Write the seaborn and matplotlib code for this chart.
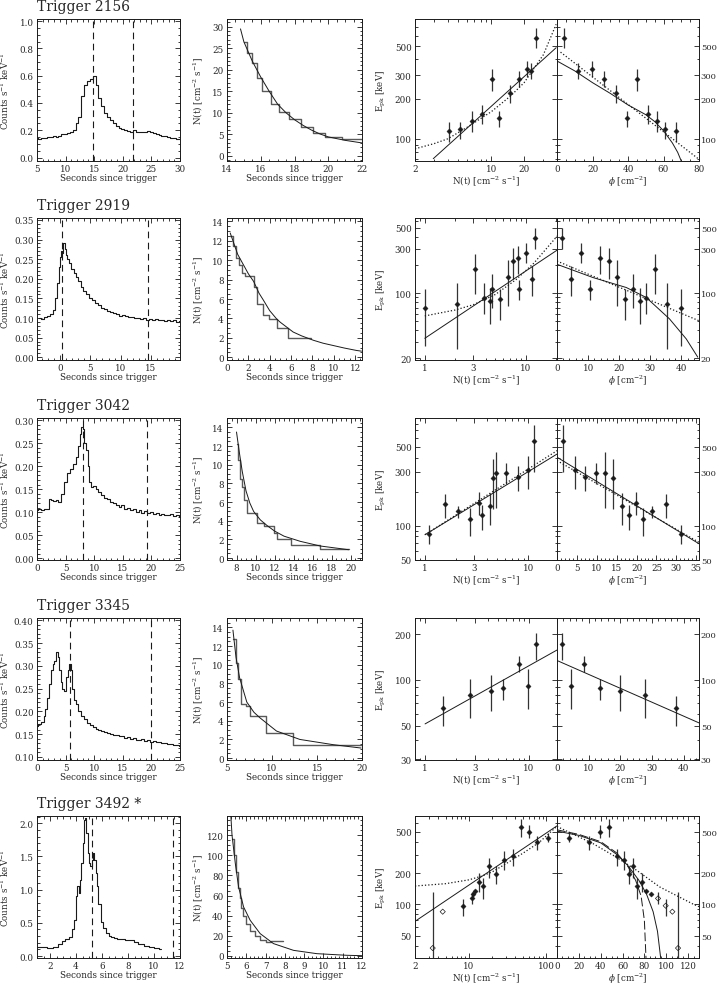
import numpy as np
import matplotlib
matplotlib.use('Agg')
import matplotlib.pyplot as plt
import seaborn as sns
from matplotlib.ticker import (FixedLocator, FuncFormatter, AutoMinorLocator,
                               LogLocator, NullFormatter, FormatStrFormatter)

# ---------------- Trigger 2156 ----------------
lc_t_2156 = [5.0, 5.5, 6.0, 6.5, 7.0, 7.5, 8.0, 8.5, 9.0, 9.5,
             10.0, 10.5, 11.0, 11.5, 12.0, 12.5, 13.0, 13.5, 14.0, 14.5,
             15.0, 15.5, 16.0, 16.5, 17.0, 17.5, 18.0, 18.5, 19.0, 19.5,
             20.0, 20.5, 21.0, 21.5, 22.0, 22.5, 23.0, 23.5, 24.0, 24.5,
             25.0, 25.5, 26.0, 26.5, 27.0, 27.5, 28.0, 28.5, 29.0, 29.5, 30.0]
lc_y_2156 = [0.140, 0.135, 0.145, 0.140, 0.150, 0.148, 0.155, 0.152, 0.160, 0.175,
             0.170, 0.180, 0.185, 0.205, 0.250, 0.300, 0.450, 0.530, 0.560, 0.575,
             0.595, 0.530, 0.440, 0.380, 0.330, 0.300, 0.275, 0.255, 0.235, 0.220,
             0.210, 0.205, 0.195, 0.190, 0.200, 0.190, 0.185, 0.188, 0.190, 0.198,
             0.185, 0.180, 0.172, 0.165, 0.160, 0.155, 0.150, 0.145, 0.140, 0.138, 0.135]
marks_2156 = [14.8, 21.7]
fit_t_2156 = [14.8, 15.0, 15.5, 16.0, 16.5, 17.0, 17.5, 18.0, 18.5, 19.0, 19.5, 20.0, 21.0, 22.0]
fit_n_2156 = [29.5, 26.5, 22.0, 18.3, 15.0, 12.0, 10.0, 8.4, 7.1, 6.0, 5.1, 4.4, 3.6, 3.0]
hist_edges_2156 = [15.0, 15.2, 15.5, 15.8, 16.1, 16.6, 17.1, 17.7, 18.4, 19.1, 19.8, 20.8, 22.0]
hist_vals_2156 = [26.5, 24.0, 21.5, 18.0, 15.0, 12.0, 10.3, 8.5, 6.8, 5.2, 4.3, 4.0]
phi_2156 = [3.9, 12.0, 19.5, 26.5, 33.2, 39.6, 45.3, 51.5, 56.5, 60.8, 67.0]
nflux_2156 = [25.8, 23.2, 21.2, 17.8, 14.8, 11.7, 10.1, 8.24, 6.6, 5.13, 4.1]
epk_2156 = [577, 325, 338, 281, 221, 143, 281, 154, 137, 119, 114]
epk_lo_2156 = [487, 281, 290, 244, 185, 122, 230, 129, 112, 100, 94]
epk_hi_2156 = [687, 375, 385, 325, 254, 162, 338, 180, 163, 134, 133]
en_solid_n_2156 = [2.94, 39.3]
en_solid_e_2156 = [70.8, 486]
en_dot_n_2156 = [2, 3, 4, 6, 10, 15, 20, 30, 39.3]
en_dot_e_2156 = [84, 92, 100, 122, 160, 210, 265, 430, 730]
ep_solid_p_2156 = [0, 10, 20, 30, 40, 50, 55, 60, 65, 68, 70]
ep_solid_e_2156 = [386, 325, 265, 220, 180, 152, 135, 115, 93, 79, 68]
ep_dot_p_2156 = [2, 80]
ep_dot_e_2156 = [450, 70]

# ---------------- Trigger 2919 ----------------
lc_t_2919 = [-3.5, -3.0, -2.5, -2.0, -1.5, -1.0, -0.7, -0.4, -0.2, 0.0,
             0.2, 0.4, 0.6, 0.8, 1.0, 1.3, 1.6, 2.0, 2.4, 2.8,
             3.2, 3.6, 4.0, 4.5, 5.0, 5.5, 6.0, 6.5, 7.0, 7.5,
             8.0, 8.5, 9.0, 9.5, 10.0, 10.5, 11.0, 11.5, 12.0, 12.5,
             13.0, 13.5, 14.0, 14.5, 15.0, 15.5, 16.0, 16.5, 17.0, 17.5,
             18.0, 18.5, 19.0, 19.5, 19.9]
lc_y_2919 = [0.100, 0.098, 0.102, 0.105, 0.110, 0.120, 0.150, 0.190, 0.230, 0.255,
             0.270, 0.265, 0.290, 0.275, 0.260, 0.250, 0.240, 0.225, 0.215, 0.205,
             0.195, 0.180, 0.170, 0.160, 0.150, 0.145, 0.138, 0.132, 0.125, 0.122,
             0.118, 0.115, 0.112, 0.110, 0.106, 0.108, 0.104, 0.102, 0.103, 0.100,
             0.101, 0.098, 0.100, 0.096, 0.098, 0.095, 0.097, 0.094, 0.096, 0.093,
             0.095, 0.092, 0.094, 0.091, 0.093]
marks_2919 = [0.2, 14.6]
fit_t_2919 = [0.3, 1.0, 2.0, 2.5, 3.0, 3.4, 4.0, 4.65, 5.0, 6.2, 7.0, 8.1, 9.0, 10.0, 11.0, 12.15, 12.6]
fit_n_2919 = [12.8, 10.6, 8.6, 7.8, 6.6, 5.9, 4.8, 3.95, 3.6, 2.6, 2.2, 1.75, 1.45, 1.2, 0.95, 0.7, 0.63]
hist_edges_2919 = [0.3, 0.55, 0.8, 1.1, 1.4, 1.7, 2.5, 2.8, 3.4, 3.9, 4.7, 5.75, 7.9]
hist_vals_2919 = [12.5, 11.5, 10.2, 9.5, 8.7, 8.4, 7.2, 5.5, 4.4, 3.9, 3.0, 2.0]
phi_2919 = [1.6, 4.6, 7.6, 10.5, 13.7, 16.6, 19.3, 21.9, 24.3, 26.6, 28.7, 31.4, 35.4, 40.0]
nflux_2919 = [12.4, 11.5, 10.0, 8.58, 8.26, 7.37, 6.6, 5.53, 4.67, 4.4, 3.84, 3.13, 2.09, 1.0]
epk_2919 = [392, 143, 272, 112, 240, 221, 150, 86, 110, 83, 88, 180, 76, 70]
epk_lo_2919 = [295, 94, 212, 85, 160, 141, 73, 52, 70, 47, 60, 98, 25, 27]
epk_hi_2919 = [502, 196, 347, 140, 320, 307, 225, 112, 160, 115, 130, 260, 127, 110]
en_solid_n_2919 = [1.0, 20.4]
en_solid_e_2919 = [32.8, 290]
en_dot_n_2919 = [1, 2, 3, 5, 8, 12, 20.4]
en_dot_e_2919 = [57, 66, 75, 97, 140, 210, 410]
ep_solid_p_2919 = [0, 11.6, 22.3, 28.7, 36.2, 41.6, 45.3]
ep_solid_e_2919 = [204, 147, 115, 90, 53, 32.3, 20.6]
ep_dot_p_2919 = [0, 45.7]
ep_dot_e_2919 = [221, 50.6]

# ---------------- Trigger 3042 ----------------
lc_t_3042 = [0.0, 0.5, 1.0, 1.5, 2.0, 2.3, 2.7, 3.0, 3.5, 4.0,
             4.5, 5.0, 5.5, 6.0, 6.5, 7.0, 7.3, 7.6, 7.9, 8.1,
             8.4, 8.7, 9.0, 9.3, 9.6, 10.0, 10.5, 11.0, 11.5, 12.0,
             12.5, 13.0, 13.5, 14.0, 14.5, 15.0, 15.5, 16.0, 16.5, 17.0,
             17.5, 18.0, 18.5, 19.0, 19.5, 20.0, 20.5, 21.0, 21.5, 22.0,
             22.5, 23.0, 23.5, 24.0, 24.5, 25.0]
lc_y_3042 = [0.105, 0.108, 0.104, 0.107, 0.106, 0.128, 0.126, 0.124, 0.127, 0.122,
             0.140, 0.165, 0.185, 0.195, 0.205, 0.220, 0.245, 0.270, 0.285, 0.280,
             0.250, 0.235, 0.200, 0.165, 0.155, 0.158, 0.150, 0.145, 0.138, 0.130,
             0.128, 0.122, 0.120, 0.115, 0.112, 0.115, 0.108, 0.110, 0.104, 0.106,
             0.100, 0.104, 0.098, 0.102, 0.099, 0.100, 0.096, 0.098, 0.094, 0.097,
             0.095, 0.093, 0.096, 0.092, 0.094, 0.090]
marks_3042 = [8.0, 19.3]
fit_t_3042 = [8.0, 8.3, 8.6, 9.0, 9.4, 9.8, 10.5, 11.2, 12.0, 13.0, 14.7, 16.8, 19.8]
fit_n_3042 = [13.5, 11.3, 9.3, 7.2, 5.9, 5.0, 4.1, 3.5, 2.9, 2.35, 1.8, 1.3, 0.9]
hist_edges_3042 = [8.0, 8.2, 8.4, 8.6, 8.8, 9.1, 10.2, 10.9, 11.9, 12.3, 13.7, 16.8, 19.8]
hist_vals_3042 = [12.2, 10.5, 8.5, 7.6, 6.2, 4.85, 3.8, 3.4, 2.7, 2.0, 1.45, 0.95]
phi_3042 = [1.5, 4.4, 7.1, 9.7, 12.0, 14.2, 16.3, 18.1, 19.9, 21.6, 23.9, 27.3, 31.3]
nflux_3042 = [11.3, 10.0, 8.0, 6.07, 4.82, 4.58, 4.25, 3.55, 3.3, 2.73, 2.1, 1.56, 1.1]
epk_3042 = [557, 313, 272, 292, 292, 262, 149, 123, 160, 115, 134, 154, 85]
epk_lo_3042 = [296, 210, 202, 233, 144, 141, 102, 92, 125, 80, 117, 117, 68]
epk_hi_3042 = [775, 418, 340, 358, 447, 390, 196, 151, 199, 144, 149, 189, 102]
en_solid_n_3042 = [1.0, 19.1]
en_solid_e_3042 = [83, 432]
en_dot_n_3042 = [1.0, 19.1]
en_dot_e_3042 = [83, 463]
ep_solid_p_3042 = [0, 35.7]
ep_solid_e_3042 = [404, 69]
ep_dot_p_3042 = [0, 35.7]
ep_dot_e_3042 = [377, 71]

# ---------------- Trigger 3345 ----------------
lc_t_3345 = [0.0, 0.5, 1.0, 1.3, 1.6, 2.0, 2.3, 2.6, 2.9, 3.2,
             3.5, 3.7, 4.0, 4.3, 4.6, 4.9, 5.2, 5.5, 5.8, 6.0,
             6.3, 6.6, 7.0, 7.5, 8.0, 8.5, 9.0, 9.5, 10.0, 10.5,
             11.0, 11.5, 12.0, 12.5, 13.0, 13.5, 14.0, 14.5, 15.0, 15.5,
             16.0, 16.5, 17.0, 17.5, 18.0, 18.5, 19.0, 19.5, 20.0, 20.5,
             21.0, 21.5, 22.0, 22.5, 23.0, 23.5, 24.0, 24.5, 25.0]
lc_y_3345 = [0.168, 0.172, 0.176, 0.190, 0.205, 0.230, 0.260, 0.290, 0.305, 0.310,
             0.330, 0.320, 0.290, 0.265, 0.250, 0.245, 0.275, 0.290, 0.305, 0.290,
             0.250, 0.225, 0.215, 0.200, 0.190, 0.182, 0.175, 0.170, 0.165, 0.162,
             0.160, 0.157, 0.155, 0.152, 0.150, 0.149, 0.147, 0.146, 0.145, 0.142,
             0.143, 0.140, 0.141, 0.138, 0.137, 0.139, 0.135, 0.136, 0.133, 0.135,
             0.132, 0.133, 0.130, 0.131, 0.128, 0.129, 0.125, 0.127, 0.124]
marks_3345 = [5.7, 20.0]
fit_t_3345 = [5.66, 6.0, 6.4, 7.2, 8.0, 8.68, 10.5, 13.1, 16.8, 19.9]
fit_n_3345 = [13.7, 10.8, 8.6, 6.0, 4.9, 4.3, 2.9, 2.0, 1.44, 1.08]
hist_edges_3345 = [5.7, 5.95, 6.2, 6.6, 7.1, 7.6, 9.3, 12.3, 20.0]
hist_vals_3345 = [12.8, 10.2, 8.5, 5.8, 5.6, 4.5, 2.7, 1.4]
phi_3345 = [1.6, 4.5, 8.4, 13.7, 20.0, 27.7, 37.7]
nflux_3345 = [11.8, 9.79, 8.0, 5.62, 4.35, 2.7, 1.48]
epk_3345 = [171, 91, 127, 88, 85, 79, 65]
epk_lo_3345 = [134, 64, 112, 74, 62, 56, 50]
epk_hi_3345 = [203, 118, 144, 101, 108, 101, 78]
en_solid_n_3345 = [1.0, 18.6]
en_solid_e_3345 = [51.3, 157]
ep_solid_p_3345 = [0, 44.8]
ep_solid_e_3345 = [134, 52.1]

# ---------------- Trigger 3492 ----------------
lc_t_3492 = [1.0, 1.5, 2.0, 2.5, 2.8, 3.0, 3.3, 3.6, 3.8, 3.95,
             4.05, 4.15, 4.25, 4.35, 4.45, 4.55, 4.65, 4.75, 4.85, 4.95,
             5.05, 5.15, 5.25, 5.35, 5.45, 5.55, 5.65, 5.8, 6.0, 6.2,
             6.4, 6.6, 6.8, 7.0, 7.3, 7.6, 8.0, 8.3, 8.6, 9.0,
             9.4, 9.8, 10.2, 10.5]
lc_y_3492 = [0.140, 0.130, 0.120, 0.130, 0.180, 0.230, 0.260, 0.280, 0.400, 0.550,
             0.900, 1.050, 0.950, 1.150, 1.400, 1.700, 2.050, 2.080, 1.850, 1.550,
             1.400, 1.350, 1.450, 1.550, 1.450, 1.250, 1.050, 0.780, 0.520, 0.420,
             0.350, 0.300, 0.280, 0.270, 0.260, 0.250, 0.245, 0.235, 0.210, 0.180,
             0.150, 0.130, 0.115, 0.100]
marks_3492 = [5.26, 11.45]
fit_t_3492 = [5.2, 5.26, 5.43, 5.6, 5.86, 6.2, 6.72, 7.41, 8.45, 9.66, 11.2, 12.0]
fit_n_3492 = [139, 120, 92, 68.6, 48.7, 35.5, 22.2, 12.3, 5.6, 2.3, 0.7, 0.3]
hist_edges_3492 = [5.25, 5.35, 5.45, 5.55, 5.65, 5.75, 5.85, 6.0, 6.2, 6.45, 6.7, 7.0, 7.3, 7.9]
hist_vals_3492 = [116, 100, 83, 68, 58, 48, 40, 32, 25, 20, 16, 14, 15]
phi_3492 = [11, 29.3, 39.7, 47.6, 55.3, 61.4, 66, 70, 73.6, 77.9, 81.2, 86.4, 92.5, 99.5, 105.6, 110.8]
nflux_3492 = [104.6, 76.5, 60.6, 47.3, 37.1, 28, 22.6, 18.2, 15.1, 13.3, 12.0, 11.4, 11.1, 8.32, 4.57, 3.39]
epk_3492 = [437, 400, 500, 553, 293, 268, 195, 232, 150, 164, 133, 127, 114, 97, 85, 38]
epk_lo_3492 = [395, 330, 436, 445, 235, 213, 158, 180, 113, 131, 133, 127, 100, 78, 85, 30]
epk_hi_3492 = [480, 455, 577, 658, 340, 327, 235, 280, 180, 201, 133, 127, 130, 113, 85, 131]
open_n_3492 = 2      # last points drawn open in the N(t) panel
open_phi_3492 = 4    # last points drawn open in the phi panel
en_solid_n_3492 = [2.0, 137]
en_solid_e_3492 = [68.6, 566]
en_dot_n_3492 = [2, 5, 10, 15, 20, 30, 50, 80, 137]
en_dot_e_3492 = [150, 158, 172, 188, 205, 245, 310, 390, 560]
ep_solid_p_3492 = [0, 20, 40, 55, 65, 75, 82, 88, 92, 95]
ep_solid_e_3492 = [505, 460, 390, 300, 235, 170, 125, 85, 55, 30]
ep_dash_p_3492 = [0, 20, 40, 55, 65, 72, 77, 80, 81.5]
ep_dash_e_3492 = [520, 470, 400, 310, 230, 170, 120, 70, 30]
ep_dot_p_3492 = [0, 33, 54, 73, 94, 125, 130]
ep_dot_e_3492 = [560, 383, 285, 212, 147, 100, 95]

bursts = [
    dict(name='Trigger 2156', lc_t=lc_t_2156, lc_y=lc_y_2156, marks=marks_2156,
         fit_t=fit_t_2156, fit_n=fit_n_2156, h_e=hist_edges_2156, h_v=hist_vals_2156,
         phi=phi_2156, nf=nflux_2156, ep=epk_2156, lo=epk_lo_2156, hi=epk_hi_2156,
         en_s=(en_solid_n_2156, en_solid_e_2156), en_d=(en_dot_n_2156, en_dot_e_2156),
         ep_s=(ep_solid_p_2156, ep_solid_e_2156), ep_d=(ep_dot_p_2156, ep_dot_e_2156),
         lc_xlim=(5, 30), lc_xt=[5, 10, 15, 20, 25, 30], lc_ylim=(-0.025, 1.015),
         lc_yt=[0.0, 0.2, 0.4, 0.6, 0.8, 1.0], lc_fmt='%.1f',
         nt_xlim=(14, 22), nt_xt=[14, 16, 18, 20, 22], nt_ylim=(-1.2, 31.8),
         nt_yt=[0, 5, 10, 15, 20, 25, 30],
         en_xlim=(2, 40), en_xt=[2, 10, 20], ylim=(68, 800), yt=[100, 200, 300, 500],
         phi_xlim=(0, 80), phi_xt=[0, 20, 40, 60, 80]),
    dict(name='Trigger 2919', lc_t=lc_t_2919, lc_y=lc_y_2919, marks=marks_2919,
         fit_t=fit_t_2919, fit_n=fit_n_2919, h_e=hist_edges_2919, h_v=hist_vals_2919,
         phi=phi_2919, nf=nflux_2919, ep=epk_2919, lo=epk_lo_2919, hi=epk_hi_2919,
         en_s=(en_solid_n_2919, en_solid_e_2919), en_d=(en_dot_n_2919, en_dot_e_2919),
         ep_s=(ep_solid_p_2919, ep_solid_e_2919), ep_d=(ep_dot_p_2919, ep_dot_e_2919),
         lc_xlim=(-3.9, 19.9), lc_xt=[0, 5, 10, 15], lc_ylim=(-0.007, 0.355),
         lc_yt=[0.0, 0.05, 0.10, 0.15, 0.20, 0.25, 0.30, 0.35], lc_fmt='%.2f',
         nt_xlim=(0, 12.65), nt_xt=[0, 2, 4, 6, 8, 10, 12], nt_ylim=(-0.28, 14.34),
         nt_yt=[0, 2, 4, 6, 8, 10, 12, 14],
         en_xlim=(0.8, 20.3), en_xt=[1, 3, 10], ylim=(19.2, 640), yt=[20, 100, 300, 500],
         phi_xlim=(0, 45.7), phi_xt=[0, 10, 20, 30, 40]),
    dict(name='Trigger 3042', lc_t=lc_t_3042, lc_y=lc_y_3042, marks=marks_3042,
         fit_t=fit_t_3042, fit_n=fit_n_3042, h_e=hist_edges_3042, h_v=hist_vals_3042,
         phi=phi_3042, nf=nflux_3042, ep=epk_3042, lo=epk_lo_3042, hi=epk_hi_3042,
         en_s=(en_solid_n_3042, en_solid_e_3042), en_d=(en_dot_n_3042, en_dot_e_3042),
         ep_s=(ep_solid_p_3042, ep_solid_e_3042), ep_d=(ep_dot_p_3042, ep_dot_e_3042),
         lc_xlim=(0, 25), lc_xt=[0, 5, 10, 15, 20, 25], lc_ylim=(-0.004, 0.305),
         lc_yt=[0.0, 0.05, 0.10, 0.15, 0.20, 0.25, 0.30], lc_fmt='%.2f',
         nt_xlim=(7.0, 21.2), nt_xt=[8, 10, 12, 14, 16, 18, 20], nt_ylim=(-0.2, 15),
         nt_yt=[0, 2, 4, 6, 8, 10, 12, 14],
         en_xlim=(0.8, 19), en_xt=[1, 3, 10], ylim=(49.5, 900), yt=[50, 100, 300, 500],
         phi_xlim=(0, 35.7), phi_xt=[0, 5, 10, 15, 20, 25, 30, 35]),
    dict(name='Trigger 3345', lc_t=lc_t_3345, lc_y=lc_y_3345, marks=marks_3345,
         fit_t=fit_t_3345, fit_n=fit_n_3345, h_e=hist_edges_3345, h_v=hist_vals_3345,
         phi=phi_3345, nf=nflux_3345, ep=epk_3345, lo=epk_lo_3345, hi=epk_hi_3345,
         en_s=(en_solid_n_3345, en_solid_e_3345), en_d=None,
         ep_s=(ep_solid_p_3345, ep_solid_e_3345), ep_d=None,
         lc_xlim=(0, 25), lc_xt=[0, 5, 10, 15, 20, 25], lc_ylim=(0.093, 0.405),
         lc_yt=[0.10, 0.15, 0.20, 0.25, 0.30, 0.35, 0.40], lc_fmt='%.2f',
         nt_xlim=(5, 20), nt_xt=[5, 10, 15, 20], nt_ylim=(-0.2, 15),
         nt_yt=[0, 2, 4, 6, 8, 10, 12, 14],
         en_xlim=(0.8, 18.6), en_xt=[1, 3, 10], ylim=(29.7, 255), yt=[30, 50, 100, 200],
         phi_xlim=(0, 44.8), phi_xt=[0, 10, 20, 30, 40]),
    dict(name='Trigger 3492 *', lc_t=lc_t_3492, lc_y=lc_y_3492, marks=marks_3492,
         fit_t=fit_t_3492, fit_n=fit_n_3492, h_e=hist_edges_3492, h_v=hist_vals_3492,
         phi=phi_3492, nf=nflux_3492, ep=epk_3492, lo=epk_lo_3492, hi=epk_hi_3492,
         en_s=(en_solid_n_3492, en_solid_e_3492), en_d=(en_dot_n_3492, en_dot_e_3492),
         ep_s=(ep_solid_p_3492, ep_solid_e_3492), ep_d=(ep_dot_p_3492, ep_dot_e_3492),
         ep_dash=(ep_dash_p_3492, ep_dash_e_3492),
         open_n=open_n_3492, open_phi=open_phi_3492,
         lc_xlim=(1, 12), lc_xt=[2, 4, 6, 8, 10, 12], lc_ylim=(-0.03, 2.11),
         lc_yt=[0.0, 0.5, 1.0, 1.5, 2.0], lc_fmt='%.1f',
         nt_xlim=(5, 12), nt_xt=[5, 6, 7, 8, 9, 10, 11, 12], nt_ylim=(-2, 139),
         nt_yt=[0, 20, 40, 60, 80, 100, 120],
         en_xlim=(2, 138), en_xt=[2, 10, 100], ylim=(30.5, 706), yt=[50, 100, 200, 500],
         phi_xlim=(0, 130), phi_xt=[0, 20, 40, 60, 80, 100, 120]),
]

sns.set_theme(style='ticks')
plt.rcParams['font.family'] = ['DejaVu Serif']
plt.rcParams['mathtext.fontset'] = 'dejavuserif'

FS = 6.3
W, H = 718.0, 987.0
row_tops = [20, 219, 419, 619, 817]
col_left = [37, 227, 415, 557]
col_w = [143, 135, 142, 142]
ax_h = 142

fig = plt.figure(figsize=(7.18, 9.87), dpi=100)


def style(ax):
    ax.tick_params(which='both', direction='in', top=True, right=True,
                   labelsize=FS, width=0.6, color='k', pad=2.5)
    ax.tick_params(axis='x', pad=2)
    ax.tick_params(which='major', length=3.5)
    ax.tick_params(which='minor', length=1.8)
    for s in ax.spines.values():
        s.set_linewidth(0.7)
        s.set_color('k')


def log_ticks(axis, ticks):
    axis.set_major_locator(FixedLocator(ticks))
    axis.set_major_formatter(FuncFormatter(lambda v, p: f'{v:g}'))
    axis.set_minor_locator(LogLocator(subs=np.arange(2, 10)))
    axis.set_minor_formatter(NullFormatter())


def errbars(ax, x, lo, hi):
    ax.vlines(x, lo, hi, colors='0.2', lw=0.9)


for r, b in enumerate(bursts):
    bottom = (H - row_tops[r] - ax_h) / H
    axs = [fig.add_axes([col_left[c] / W, bottom, col_w[c] / W, ax_h / H]) for c in range(4)]
    a1, a2, a3, a4 = axs
    for a in axs:
        style(a)

    # light curve
    sns.lineplot(x=b['lc_t'], y=b['lc_y'], ax=a1, color='k', lw=0.8,
                 estimator=None, sort=False, drawstyle='steps-mid')
    for m in b['marks']:
        a1.axvline(m, color='k', lw=0.8, dashes=(6, 4))
    a1.set_xlim(*b['lc_xlim'])
    a1.set_ylim(*b['lc_ylim'])
    a1.set_xticks(b['lc_xt'])
    a1.set_yticks(b['lc_yt'])
    a1.yaxis.set_major_formatter(FormatStrFormatter(b['lc_fmt']))
    a1.xaxis.set_minor_locator(AutoMinorLocator())
    a1.yaxis.set_minor_locator(AutoMinorLocator())
    a1.set_xlabel('Seconds since trigger', fontsize=FS, labelpad=0.5)
    a1.set_ylabel('Counts s$^{-1}$ keV$^{-1}$', fontsize=FS)
    a1.yaxis.set_label_coords(-0.185, 0.5)
    a1.text(0.0, 1.045, b['name'], transform=a1.transAxes, fontsize=10,
            ha='left', va='bottom')

    # N(t) decay with binned steps
    steps = np.append(b['h_v'], b['h_v'][-1])
    sns.lineplot(x=b['h_e'], y=steps, ax=a2, color='0.35', lw=1.0,
                 estimator=None, sort=False, drawstyle='steps-post')
    sns.lineplot(x=b['fit_t'], y=b['fit_n'], ax=a2, color='k', lw=0.7,
                 estimator=None, sort=False)
    a2.set_xlim(*b['nt_xlim'])
    a2.set_ylim(*b['nt_ylim'])
    a2.set_xticks(b['nt_xt'])
    a2.set_yticks(b['nt_yt'])
    a2.xaxis.set_minor_locator(AutoMinorLocator())
    a2.yaxis.set_minor_locator(AutoMinorLocator())
    a2.set_xlabel('Seconds since trigger', fontsize=FS, labelpad=0.5)
    a2.set_ylabel('N(t) [cm$^{-2}$ s$^{-1}$]', fontsize=FS)
    a2.yaxis.set_label_coords(-0.16, 0.5)

    nf = np.array(b['nf'])
    ph = np.array(b['phi'])
    ep = np.array(b['ep'])
    n_open = b.get('open_n', 0)
    p_open = b.get('open_phi', 0)

    # Epk vs N(t)
    a3.set_xscale('log')
    a3.set_yscale('log')
    errbars(a3, nf, b['lo'], b['hi'])
    k = len(nf) - n_open
    sns.scatterplot(x=nf[:k], y=ep[:k], ax=a3, marker='D', s=7, color='k',
                    edgecolor='k', linewidth=0.3, zorder=3)
    if n_open:
        a3.scatter(nf[k:], ep[k:], marker='D', s=7, facecolors='none',
                   edgecolors='k', linewidths=0.5, zorder=3)
    sns.lineplot(x=b['en_s'][0], y=b['en_s'][1], ax=a3, color='k', lw=0.7,
                 estimator=None, sort=False)
    if b['en_d']:
        sns.lineplot(x=b['en_d'][0], y=b['en_d'][1], ax=a3, color='k', lw=0.9,
                     estimator=None, sort=False, linestyle=':')
    a3.set_xlim(*b['en_xlim'])
    a3.set_ylim(*b['ylim'])
    log_ticks(a3.xaxis, b['en_xt'])
    log_ticks(a3.yaxis, b['yt'])
    a3.set_xlabel('N(t) [cm$^{-2}$ s$^{-1}$]', fontsize=FS, labelpad=0.5)
    a3.set_ylabel('E$_{\\mathrm{pk}}$ [keV]', fontsize=FS)
    a3.yaxis.set_label_coords(-0.19, 0.5)

    # Epk vs fluence
    a4.set_yscale('log')
    errbars(a4, ph, b['lo'], b['hi'])
    k = len(ph) - p_open
    sns.scatterplot(x=ph[:k], y=ep[:k], ax=a4, marker='D', s=7, color='k',
                    edgecolor='k', linewidth=0.3, zorder=3)
    if p_open:
        a4.scatter(ph[k:], ep[k:], marker='D', s=7, facecolors='none',
                   edgecolors='k', linewidths=0.5, zorder=3)
    sns.lineplot(x=b['ep_s'][0], y=b['ep_s'][1], ax=a4, color='k', lw=0.7,
                 estimator=None, sort=False)
    if 'ep_dash' in b:
        sns.lineplot(x=b['ep_dash'][0], y=b['ep_dash'][1], ax=a4, color='k',
                     lw=0.7, estimator=None, sort=False, dashes=False,
                     linestyle=(0, (9, 3)))
    if b['ep_d']:
        sns.lineplot(x=b['ep_d'][0], y=b['ep_d'][1], ax=a4, color='k', lw=0.9,
                     estimator=None, sort=False, linestyle=':')
    a4.set_xlim(*b['phi_xlim'])
    a4.set_ylim(*b['ylim'])
    a4.set_xticks(b['phi_xt'])
    a4.xaxis.set_minor_locator(AutoMinorLocator())
    log_ticks(a4.yaxis, b['yt'])
    a4.tick_params(which='both', labelleft=False, labelright=True)
    a4.tick_params(axis='y', labelsize=6.0, pad=1.3)
    a4.set_xlabel('$\\phi$ [cm$^{-2}$]', fontsize=FS, labelpad=0.5)

fig.savefig('out.png', dpi=100)
